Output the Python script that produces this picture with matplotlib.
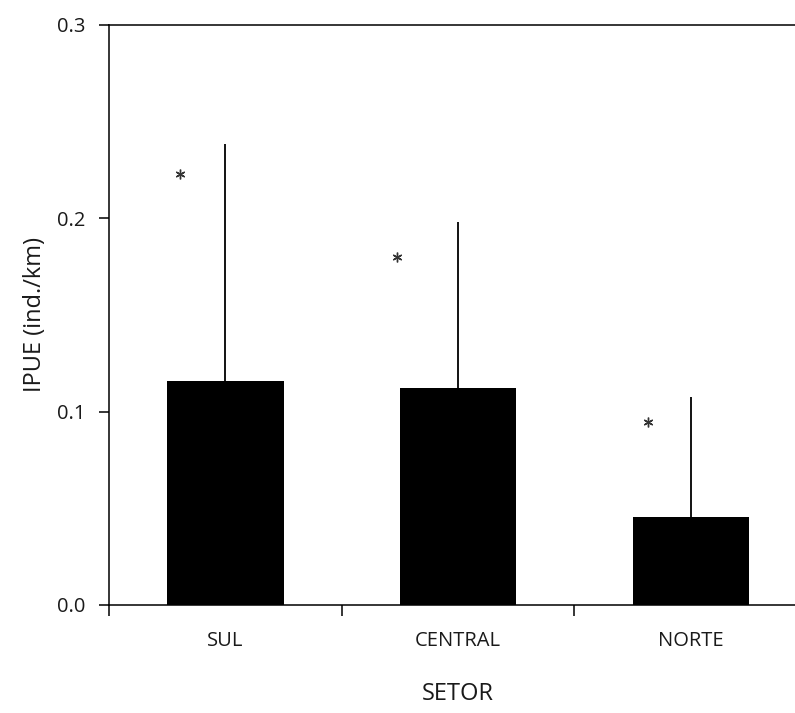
import matplotlib
matplotlib.use('Agg')
import matplotlib.pyplot as plt
import numpy as np

categories = ['SUL', 'CENTRAL', 'NORTE']
means = [0.116, 0.112, 0.0457]
upper_err = [0.1223, 0.0860, 0.0620]
star_y = [0.223, 0.180, 0.0945]
star_offset = [-0.195, -0.263, -0.185]
yticks = [0.0, 0.1, 0.2, 0.3]
ytick_labels = ['0.0', '0.1', '0.2', '0.3']

plt.rcParams['font.family'] = ['Open Sans', 'DejaVu Sans']

fig = plt.figure(figsize=(7.95, 7.13), dpi=100)
ax = fig.add_axes([109 / 795, 108 / 713, 698 / 795, 580 / 713])

x = np.arange(len(categories)) + 0.5
ax.errorbar(x, means, yerr=[np.zeros(len(means)), upper_err], fmt='none',
            ecolor='black', elinewidth=1.3, capsize=0, zorder=1)
ax.bar(x, means, width=0.5, color='black', zorder=2)
ax.plot(x + np.array(star_offset), star_y, linestyle='none', marker=(6, 2, 0),
        markersize=7, markeredgewidth=1.0, color='#333333', zorder=3)

ax.set_xlim(0, 3)
ax.set_ylim(0, 0.3)

ax.set_xticks(x)
ax.set_xticklabels(categories, fontsize=14.5, color='#1a1a1a')
ax.set_xticks([0, 1, 2, 3], minor=True)
ax.tick_params(axis='x', which='major', length=0, pad=19)
ax.tick_params(axis='x', which='minor', length=8, width=1.1, direction='out')

ax.set_yticks(yticks)
ax.set_yticklabels(ytick_labels, fontsize=14.5, color='#1a1a1a')
ax.tick_params(axis='y', which='major', length=7, width=1.1, direction='out', pad=10)

for s in ax.spines.values():
    s.set_linewidth(1.1)

ax.set_ylabel('IPUE (ind./km)', fontsize=17, labelpad=7, color='#1a1a1a')
ax.set_xlabel('SETOR', fontsize=17, labelpad=22, color='#1a1a1a')

fig.savefig('out.png', dpi=100)
